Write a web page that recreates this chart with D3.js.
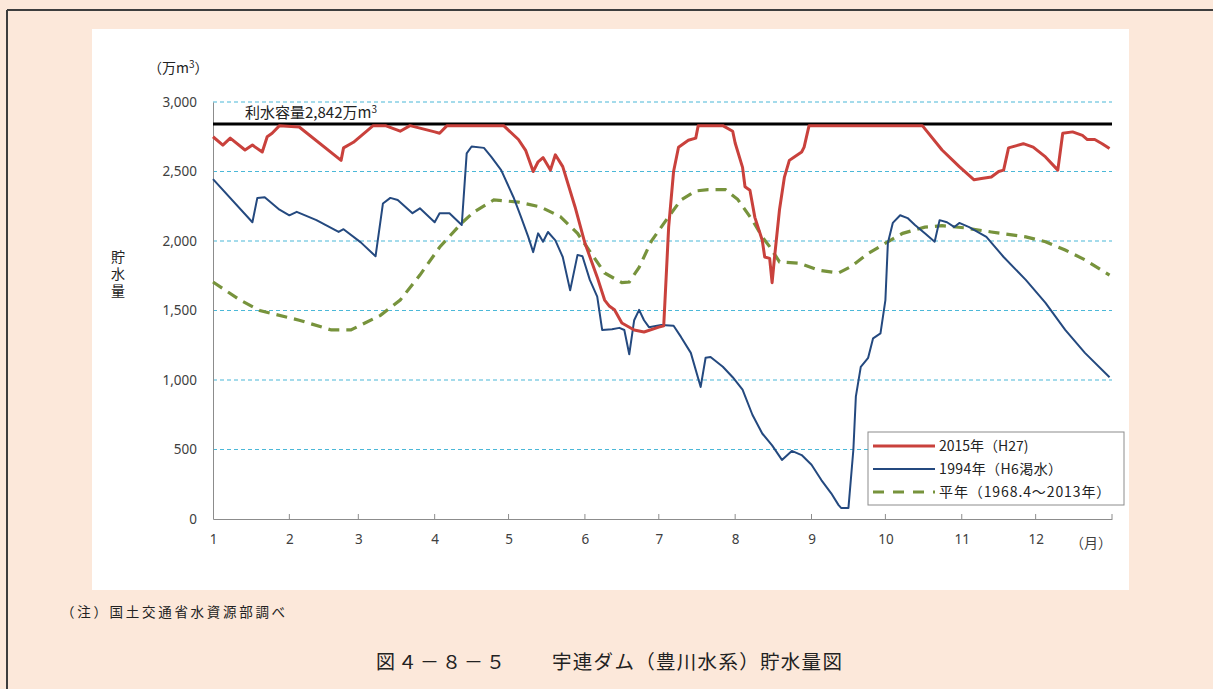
<!DOCTYPE html>
<html><head><meta charset="utf-8">
<script src="https://cdn.jsdelivr.net/npm/d3@7"></script>
<style>
html,body{margin:0;padding:0;background:#fce8da;}
svg{display:block;font-family:"Noto Sans CJK JP","Noto Sans",sans-serif;}
</style></head>
<body>
<svg id="c" width="1213" height="689"></svg>
<script>
// ---- data (day of year from Jan 1, value in 万m³) ----
const monthLabels = ["1","2","3","4","5","6","7","8","9","10","11","12"];
const yTicks = [0, 500, 1000, 1500, 2000, 2500, 3000];
const capacity = 2842;

const days2015 = [0,4,7,13,16,20,22,24,27,35,52,53,57,63,65,70,76,80,90,92,95,118,124,127,130,132,134,137,139,142,147,151,156,159,161,163,166,171,175,181,183,185,187,189,193,196,197,207,211,212,215,216,218,220,223,224,226,227,228,230,232,234,236,239,240,242,281,288,296,303,309,312,316,319,321,323,329,333,338,343,345,349,353,355,358,361,364];
const vals2015 = [2750,2690,2740,2655,2690,2640,2750,2775,2830,2820,2580,2670,2710,2800,2830,2830,2790,2830,2785,2775,2830,2830,2730,2650,2500,2570,2600,2510,2620,2535,2245,1985,1740,1575,1530,1505,1410,1360,1345,1380,1390,2100,2500,2675,2725,2740,2830,2830,2790,2705,2530,2390,2365,2170,2005,1885,1875,1700,1885,2225,2460,2580,2605,2640,2675,2830,2830,2830,2655,2535,2440,2450,2460,2500,2510,2670,2700,2675,2605,2510,2775,2785,2760,2730,2730,2700,2665];

const days1994 = [0,16,18,21,27,31,34,42,51,53,60,66,69,72,75,81,84,90,92,96,101,103,105,110,113,117,122,125,128,130,132,134,136,139,142,145,148,150,153,156,158,162,165,167,169,171,173,175,177,182,187,190,194,198,200,202,207,211,215,219,223,227,231,235,239,243,247,251,254,255,258,260,261,263,266,268,271,273,274,276,279,282,285,289,293,295,298,301,303,307,314,321,330,338,346,354,364];
const vals1994 = [2445,2135,2310,2315,2225,2185,2210,2150,2065,2085,1990,1890,2270,2310,2295,2200,2235,2135,2200,2200,2115,2630,2680,2670,2605,2510,2315,2175,2030,1920,2055,1995,2065,2005,1885,1645,1900,1890,1720,1600,1360,1365,1375,1360,1185,1430,1505,1430,1380,1395,1390,1310,1195,950,1160,1165,1095,1020,930,750,615,530,425,490,460,390,280,185,100,80,80,500,880,1095,1160,1300,1335,1575,1985,2130,2185,2165,2115,2055,1995,2150,2135,2100,2130,2100,2030,1885,1720,1555,1360,1195,1020];

const daysAvg = [0,11,19,35,48,56,68,76,84,92,101,106,114,124,133,141,148,154,159,166,169,173,178,185,190,196,201,208,213,219,223,226,230,238,246,254,259,266,275,280,289,296,305,316,330,338,346,354,364];
const valsAvg = [1705,1575,1500,1430,1360,1360,1465,1575,1755,1955,2130,2210,2295,2280,2245,2175,2055,1900,1770,1700,1705,1810,2000,2175,2295,2360,2370,2370,2300,2150,2030,1960,1850,1840,1790,1770,1815,1910,2005,2055,2100,2110,2095,2065,2030,1995,1935,1865,1755];

const seriesNames = ["2015年（H27)", "1994年（H6渇水）", "平年（1968.4～2013年）"];

// ---- drawing ----
const svg = d3.select("#c");
const toDate = d => new Date(2015, 0, 1 + d);

// frame + white panel
svg.append("rect").attr("x",0).attr("y",0).attr("width",1213).attr("height",689).attr("fill","#fce8da");
svg.append("line").attr("x1",7).attr("x2",1213).attr("y1",10).attr("y2",10).attr("stroke","#3d3d3d").attr("stroke-width",2);
svg.append("line").attr("x1",7).attr("x2",7).attr("y1",10).attr("y2",689).attr("stroke","#3d3d3d").attr("stroke-width",2);
svg.append("rect").attr("x",92).attr("y",29).attr("width",1037).attr("height",561).attr("fill","#ffffff");

const x = d3.scaleTime().domain([new Date(2015,0,1), new Date(2016,0,1)]).range([213, 1112]);
const y = d3.scaleLinear().domain([0, 3000]).range([519, 102]);

// grid
svg.append("g").selectAll("line").data(yTicks.filter(v => v > 0)).join("line")
  .attr("x1", 213).attr("x2", 1112)
  .attr("y1", d => y(d)).attr("y2", d => y(d))
  .attr("stroke", "#4bb8d8").attr("stroke-width", 1.2).attr("stroke-dasharray", "4,3");

// y axis
const yAxis = svg.append("g").attr("transform", "translate(213,0)")
  .call(d3.axisLeft(y).tickValues(yTicks).tickFormat(d3.format(",")).tickSize(0).tickPadding(16));
yAxis.select(".domain").attr("stroke", "#8c8c8c");
yAxis.selectAll("text").attr("font-size", 13.5).attr("fill", "#404040").attr("font-family", "Noto Sans, sans-serif");

// x axis
const monthTicks = d3.range(0, 12).map(m => new Date(2015, m, 1));
const xAxis = svg.append("g").attr("transform", "translate(0,519)")
  .call(d3.axisBottom(x).tickValues(monthTicks).tickFormat((d, i) => monthLabels[i]).tickSize(0).tickPadding(15));
xAxis.select(".domain").attr("stroke", "#8c8c8c");
xAxis.selectAll("text").attr("font-size", 13.5).attr("fill", "#404040").attr("font-family", "Noto Sans, sans-serif");
svg.append("g").selectAll("line").data(monthTicks.slice(1).concat([new Date(2016,0,1)])).join("line")
  .attr("x1", d => x(d)).attr("x2", d => x(d)).attr("y1", 519).attr("y2", 514)
  .attr("stroke", "#8c8c8c");
svg.append("text").attr("x", 1091).attr("y", 548).attr("text-anchor", "middle")
  .attr("font-size", 14).attr("fill", "#404040").text("（月）");

// capacity line
svg.append("line").attr("x1", 213).attr("x2", 1112).attr("y1", y(capacity)).attr("y2", y(capacity))
  .attr("stroke", "#000").attr("stroke-width", 3);
const capT = svg.append("text").attr("x", 245).attr("y", y(capacity) - 6).attr("font-size", 15).attr("fill", "#222");
capT.append("tspan").text("利水容量2,842万m");
capT.append("tspan").attr("font-size", 10).attr("dy", -5).text("3");

// series
const line = d3.line().x(d => x(toDate(d[0]))).y(d => y(d[1]));
const mk = (ds, vs) => ds.map((d, i) => [d, vs[i]]);
svg.append("path").datum(mk(daysAvg, valsAvg)).attr("d", line).attr("fill", "none")
  .attr("stroke", "#77933c").attr("stroke-width", 3.2).attr("stroke-dasharray", "11,7");
svg.append("path").datum(mk(days1994, vals1994)).attr("d", line).attr("fill", "none")
  .attr("stroke", "#24497f").attr("stroke-width", 2).attr("stroke-linejoin", "round");
svg.append("path").datum(mk(days2015, vals2015)).attr("d", line).attr("fill", "none")
  .attr("stroke", "#c9413c").attr("stroke-width", 3).attr("stroke-linejoin", "round");

// legend
const lg = svg.append("g");
lg.append("rect").attr("x", 868).attr("y", 432).attr("width", 256).attr("height", 73)
  .attr("fill", "#fff").attr("stroke", "#8c8c8c");
const lc = [["#c9413c", 3, null], ["#24497f", 2, null], ["#77933c", 3.2, "11,9"]];
const lsp = [0, 0.4, 0.9];
seriesNames.forEach((n, i) => {
  const yy = 446 + i * 23;
  lg.append("line").attr("x1", 873).attr("x2", 935).attr("y1", yy).attr("y2", yy)
    .attr("stroke", lc[i][0]).attr("stroke-width", lc[i][1]).attr("stroke-dasharray", lc[i][2]);
  lg.append("text").attr("x", 939).attr("y", yy + 5).attr("font-size", 14).attr("fill", "#222")
    .attr("letter-spacing", lsp[i]).text(n);
});

// axis titles
svg.append("text").attr("x", 118).attr("y", 250)
  .attr("writing-mode", "vertical-rl").attr("glyph-orientation-vertical", 0)
  .style("writing-mode", "vertical-rl")
  .attr("letter-spacing", 3).attr("font-size", 14).attr("fill", "#222").text("貯水量");
const ut = svg.append("text").attr("x", 148).attr("y", 73).attr("font-size", 14).attr("fill", "#222");
ut.append("tspan").text("（万m");
ut.append("tspan").attr("font-size", 10).attr("dy", -5).text("3");
ut.append("tspan").attr("dy", 5).text("）");

// note and title
svg.append("text").attr("x", 61).attr("y", 617).attr("font-size", 13.5).attr("fill", "#222")
  .attr("letter-spacing", 2.7).text("（注）国土交通省水資源部調べ");
svg.append("text").attr("x", 376).attr("y", 669).attr("font-size", 19).attr("fill", "#222")
  .attr("letter-spacing", 3).text("図４－８－５");
svg.append("text").attr("x", 552).attr("y", 669).attr("font-size", 19.5).attr("fill", "#222")
  .attr("letter-spacing", 1.3).text("宇連ダム（豊川水系）貯水量図");
</script>
</body></html>
